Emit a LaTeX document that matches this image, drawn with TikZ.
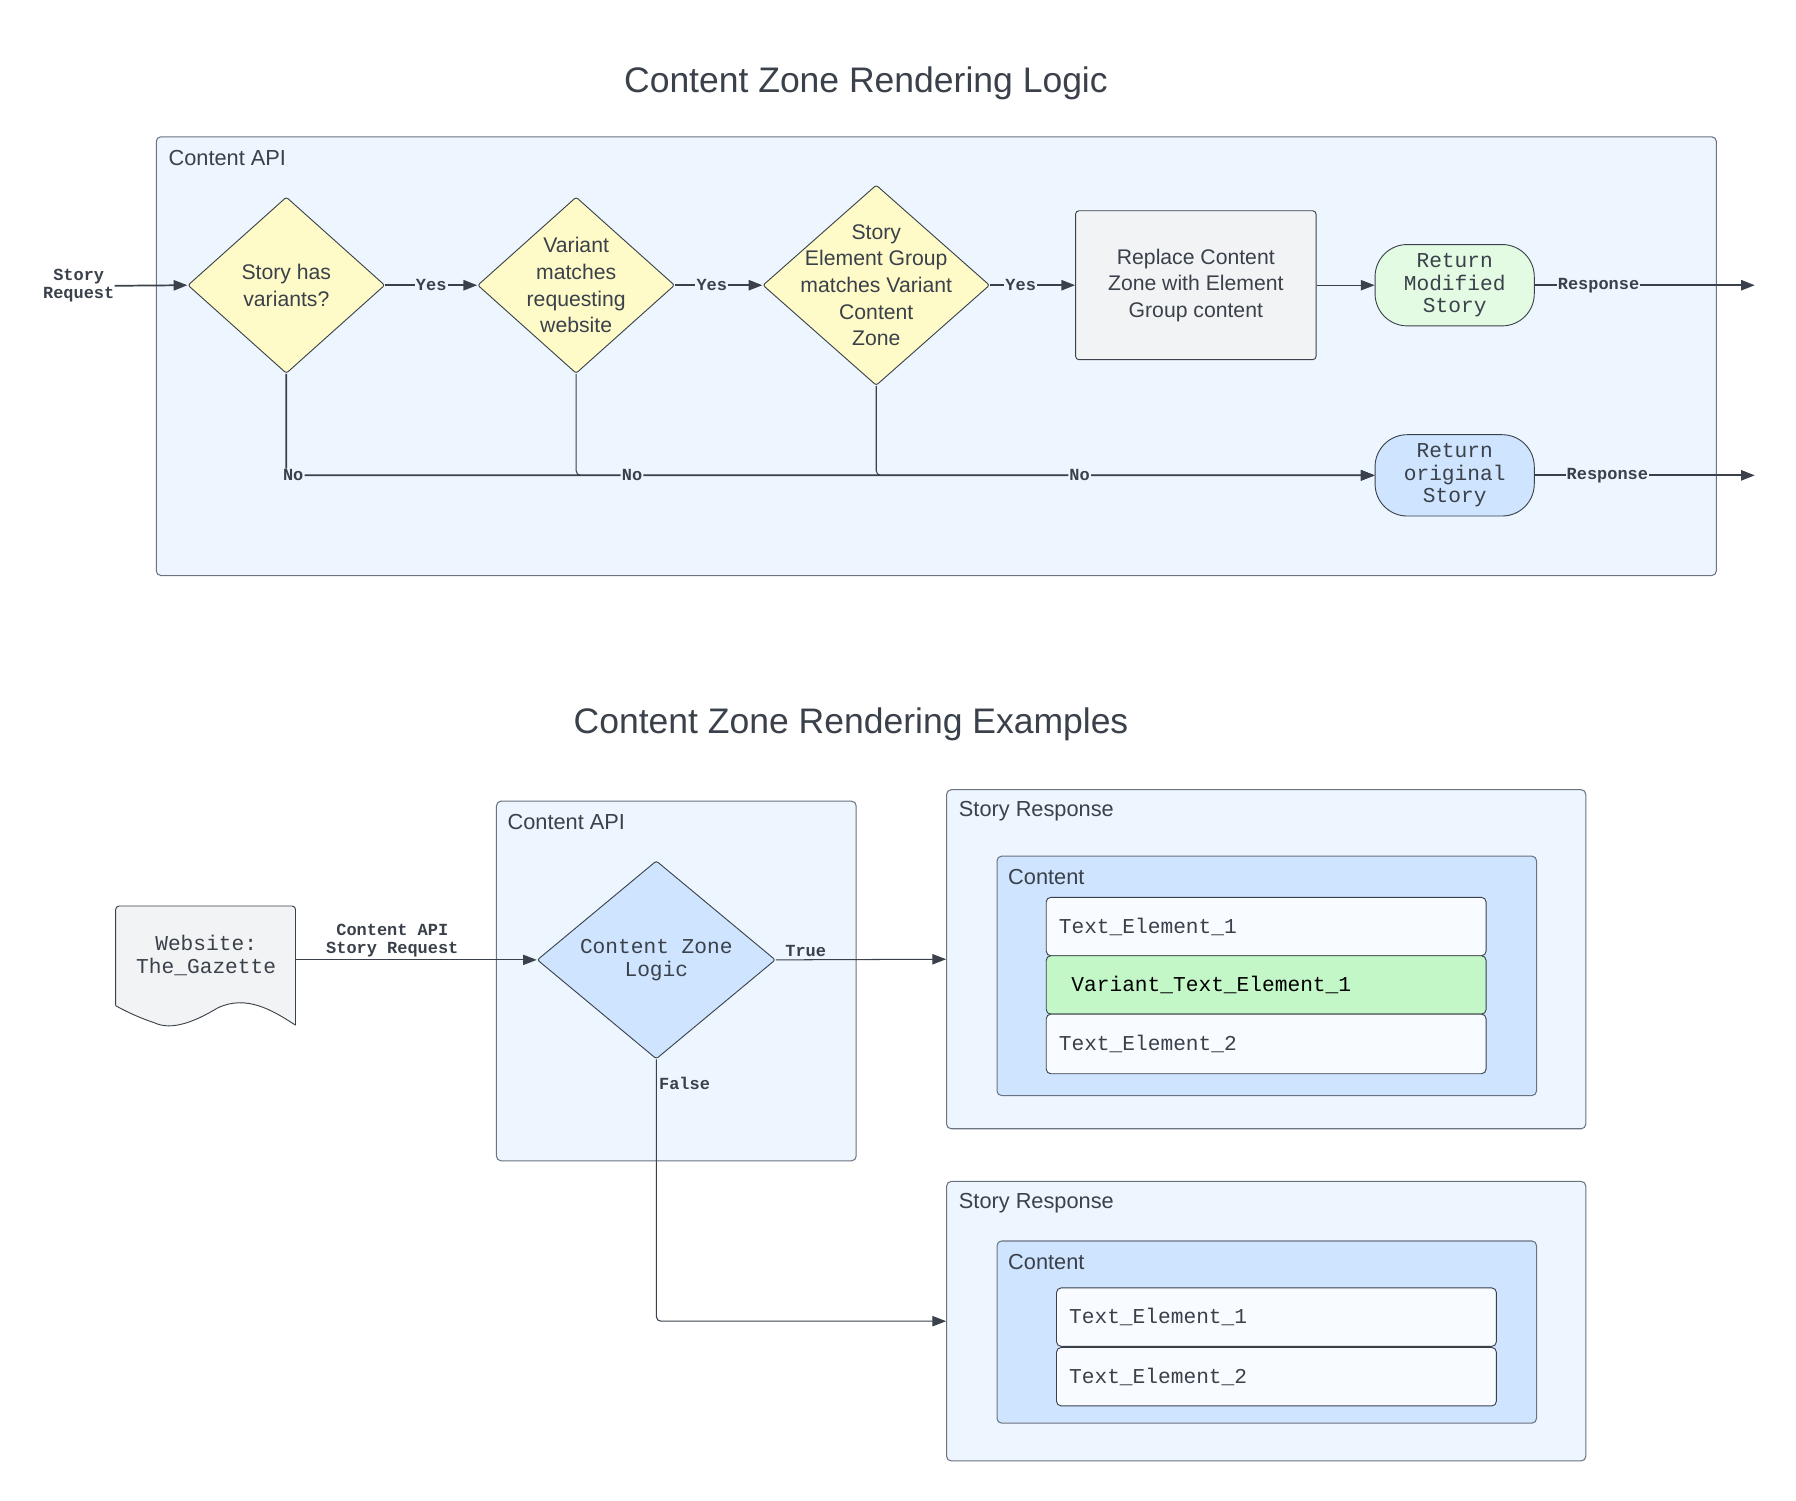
\documentclass[tikz,border=0pt]{standalone}
\usepackage{fontspec}
\setmainfont{Liberation Sans}
\setmonofont{Liberation Mono}
\usetikzlibrary{shapes.geometric,arrows.meta}
\definecolor{ink}{HTML}{3A414A}
\definecolor{boxline}{HTML}{6B7280}
\definecolor{apifill}{HTML}{EDF5FF}
\definecolor{yel}{HTML}{FEFBC8}
\definecolor{grayfill}{HTML}{F2F3F5}
\definecolor{greenfill}{HTML}{E3FAE3}
\definecolor{bluefill}{HTML}{CFE4FF}
\definecolor{vgreen}{HTML}{C3F7C8}
\definecolor{tefill}{HTML}{F8FBFF}
\newcommand\titlefnt{\fontsize{31}{36}\selectfont}
\newcommand\sansfnt{\fontsize{18.5}{23.2}\selectfont}
\newcommand\lblfnt{\fontsize{19}{23}\selectfont}
\newcommand\monofnt{\fontsize{18.5}{19.7}\selectfont\ttfamily}
\newcommand\boldfnt{\fontsize{14.8}{15.5}\selectfont\ttfamily\bfseries}
\tikzset{
  container/.style={draw=boxline, fill=apifill, rounded corners=4pt, line width=0.9pt, anchor=north west, inner sep=0pt},
  inner/.style={draw=boxline, fill=bluefill, rounded corners=4pt, line width=0.9pt, anchor=north west, inner sep=0pt},
  dia/.style={diamond, draw=ink, line width=0.8pt, fill=yel, inner sep=0pt, rounded corners=2pt},
  dtext/.style={align=center, text=ink, font=\sansfnt},
  mtext/.style={align=center, text=ink, font=\monofnt},
  boxlbl/.style={anchor=west, text=ink, font=\lblfnt, inner sep=0pt},
  titlelbl/.style={text=ink, font=\titlefnt},
  elbl/.style={text=ink, font=\boldfnt, fill=apifill, inner sep=1pt},
  elblclear/.style={text=ink, font=\boldfnt, inner sep=2pt, align=center},
  conn/.style={draw=ink, line width=1.5pt, -{Triangle[length=12pt,width=9pt]}},
  connthin/.style={draw=ink, line width=0.9pt, -{Triangle[length=12pt,width=9pt]}},
  stadium/.style={draw=ink, line width=0.8pt, rounded corners=28pt, minimum width=139pt, minimum height=71pt, align=center, text=ink, font=\monofnt, inner sep=0pt},
  telem/.style={draw=ink, line width=0.8pt, fill=tefill, rounded corners=4pt, anchor=north west, text width=362pt, align=left, inner xsep=11pt, inner ysep=0pt, minimum height=51pt, font=\monofnt, text=ink}
}
\begin{document}
\begin{tikzpicture}[x=1pt,y=-1pt]
\useasboundingbox (0,0) rectangle (1568,1310);
\fill[white] (0,0) rectangle (1568,1310);

% ---------- Top section ----------
\node[titlelbl] (t1) at (756,73) {Content Zone Rendering Logic};
\node[container, minimum width=1362pt, minimum height=383pt] (api1) at (136,119) {};
\node[boxlbl] (api1lbl) at (147,138) {Content API};

\node[elblclear, anchor=east, inner sep=0pt] (sr) at (100,249.5) {Story\\Request};

\node[dia, minimum width=172pt, minimum height=154pt] (d1) at (250,249) {};
\node[dtext] (d1t) at (d1.center) {Story has\\variants?};
\node[dia, minimum width=172pt, minimum height=154pt] (d2) at (503,249) {};
\node[dtext] (d2t) at (d2.center) {Variant\\matches\\requesting\\website};
\node[dia, minimum width=198pt, minimum height=175pt] (d3) at (765,249) {};
\node[dtext] (d3t) at (d3.center) {Story\\Element Group\\matches Variant\\Content\\Zone};

\node[draw=ink, line width=0.8pt, fill=grayfill, rounded corners=3pt, minimum width=210pt, minimum height=130pt, inner sep=0pt, dtext] (rep) at (1044,249) {Replace Content\\Zone with Element\\Group content};

\node[stadium, fill=greenfill] (ret1) at (1270,249) {Return\\Modified\\Story};
\node[stadium, fill=bluefill] (ret2) at (1270,415) {Return\\original\\Story};

\coordinate (end1) at (1532,249);
\coordinate (end2) at (1532,415);

\draw[conn] (sr.east) -- (d1.west);
\draw[conn] (d1.east) -- node[elbl]{Yes} (d2.west);
\draw[conn] (d2.east) -- node[elbl, pos=0.42]{Yes} (d3.west);
\draw[conn] (d3.east) -- node[elbl, pos=0.36]{Yes} (rep.west);
\draw[connthin] (rep.east) -- (ret1.west);
\draw[conn] (ret1.east) -- node[elbl, pos=0.29]{Response} (end1);
\draw[conn] (ret2.east) -- node[elbl, pos=0.33]{Response} (end2);

\draw[conn, rounded corners=3pt] (d1.south) |- node[elbl, pos=0.5, xshift=6pt]{No} (ret2.west);
\draw[connthin, rounded corners=4pt] (d2.south) |- node[elbl, pos=0.535]{No} (ret2.west);
\draw[connthin, rounded corners=4pt] (d3.south) |- node[elbl, pos=0.704]{No} (ret2.west);

% ---------- Bottom section ----------
\node[titlelbl] (t2) at (743,632) {Content Zone Rendering Examples};

\node[container, minimum width=314pt, minimum height=314pt] (api2) at (433,699) {};
\node[boxlbl] (api2lbl) at (443,718) {Content API};

% document shape
\path node[inner sep=0pt, minimum width=157pt, minimum height=104pt, anchor=north west] (docbox) at (101,791) {};
\fill[grayfill] (101,878) -- (101,791) -- (258,791) -- (258,895)
  .. controls (238,882) and (215,868) .. (190,880)
  .. controls (170,892) and (150,900) .. (135,893)
  .. controls (120,888) and (108,882) .. (101,878) -- cycle;
\draw[draw=ink, line width=0.8pt, rounded corners=3pt]
  (101,878) -- (101,791) -- (258,791) -- (258,895);
\draw[draw=ink, line width=0.8pt] (258,895)
  .. controls (238,882) and (215,868) .. (190,880)
  .. controls (170,892) and (150,900) .. (135,893)
  .. controls (120,888) and (108,882) .. (101,878);
\node[mtext] (doc) at (180,834) {Website:\\The\_Gazette};

\node[dia, fill=bluefill, minimum width=208pt, minimum height=173pt] (cz) at (573,838) {};
\node[mtext] (czt) at (cz.center) {Content Zone\\Logic};

\node[container, minimum width=558pt, minimum height=296pt] (sr1) at (826,689) {};
\node[boxlbl] (sr1lbl) at (837,708) {Story Response};
\node[inner, minimum width=471pt, minimum height=209pt] (c1) at (870,747) {};
\node[boxlbl] (c1lbl) at (880,766) {Content};
\node[telem] (te1) at (913,783) {Text\_Element\_1};
\node[telem, fill=vgreen, text=black] (vte) at (913,834) {\hspace*{11pt}Variant\_Text\_Element\_1};
\node[telem, minimum height=52pt] (te2) at (913,885) {Text\_Element\_2};

\node[container, minimum width=558pt, minimum height=244pt] (sr2) at (826,1031) {};
\node[boxlbl] (sr2lbl) at (837,1050) {Story Response};
\node[inner, minimum width=471pt, minimum height=159pt] (c2) at (870,1083) {};
\node[boxlbl] (c2lbl) at (880,1102) {Content};
\node[telem] (te3) at (922,1124) {Text\_Element\_1};
\node[telem] (te4) at (922,1176) {Text\_Element\_2};

\draw[connthin] (docbox.east |- cz.west) -- node[elblclear, above, pos=0.40]{Content API\\Story Request} (cz.west);
\draw[connthin] (cz.east) -- node[elblclear, above, pos=0.175]{True} (sr1.west);
\draw[connthin, rounded corners=4pt] (cz.south) |- node[elblclear, right, pos=0.045]{False} (sr2.west);
\end{tikzpicture}
\end{document}
